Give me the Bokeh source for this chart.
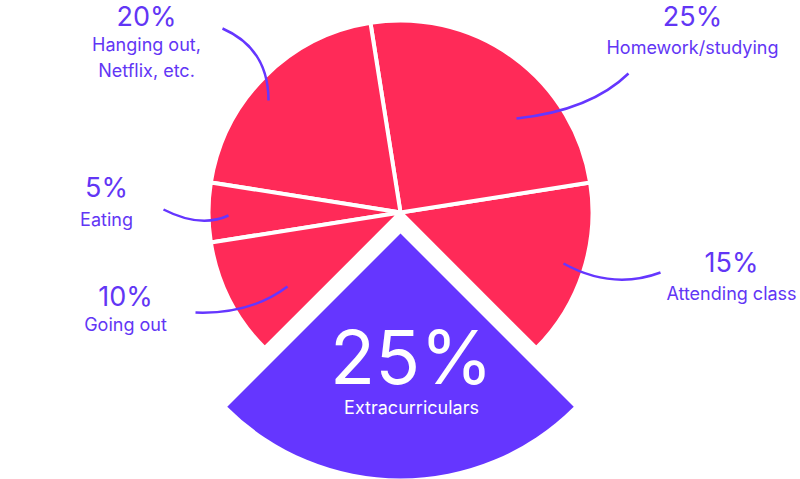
import math
from bokeh.plotting import figure
from bokeh.models import Range1d
from bokeh.core.properties import value
from bokeh.embed import file_html
from bokeh.resources import INLINE

# ---- data ----
categories = ["Extracurriculars", "Attending class", "Homework/studying",
              "Hanging out,\nNetflix, etc.", "Eating", "Going out"]
shares = [25, 15, 25, 20, 5, 10]
pct_labels = ["25%", "15%", "25%", "20%", "5%", "10%"]

# ---- layout / style ----
W, H = 800, 479
RED = "#FF2A58"
PURPLE = "#6536FF"
TEXT = "#6236F5"
FONT = "Inter"
CX, CY = 400, H - 212          # pie centre (data coords, y up)
R = 192
R_EXPLODE = 245
EXPLODE_OFF = 21
START_DEG = 225                 # first slice starts here, counter-clockwise

# label anchor positions (screen px): x, pct y, text y
label_pos = {
    1: (731, 262, 293),
    2: (692, 16, 47),
    3: (146, 16, 44),
    4: (106, 187, 219),
    5: (125, 296, 324),
}
# leader lines: (outer x, outer y, control x, control y, inner x, inner y) in screen px
leaders = {
    1: (660, 272, 612, 290, 563, 263),
    2: (628, 73, 590, 110, 516, 118),
    3: (222, 28, 268, 48, 268, 100),
    4: (163, 209, 200, 228, 228, 215),
    5: (195, 312, 250, 314, 287, 286),
}

p = figure(width=W, height=H, x_range=Range1d(0, W), y_range=Range1d(0, H),
           output_backend="svg", toolbar_location=None, min_border=0)
p.axis.visible = False
p.grid.visible = False
p.outline_line_color = None
p.background_fill_color = "white"

total = sum(shares)
angles = []
a = START_DEG
for s in shares:
    span = 360.0 * s / total
    angles.append((a, a + span))
    a += span

# red slices
st, en = [], []
for i in range(1, len(shares)):
    s0, s1 = angles[i]
    st.append(math.radians(s0)); en.append(math.radians(s1))
p.wedge(x=[CX] * len(st), y=[CY] * len(st), radius=R, start_angle=st, end_angle=en,
        fill_color=RED, line_color="white", line_width=4)

# exploded slice
s0, s1 = angles[0]
mid = math.radians((s0 + s1) / 2)
ex = CX + EXPLODE_OFF * math.cos(mid)
ey = CY + EXPLODE_OFF * math.sin(mid)
p.wedge(x=[ex], y=[ey], radius=R_EXPLODE, start_angle=[math.radians(s0)],
        end_angle=[math.radians(s1)], fill_color=PURPLE, line_color=None)

# leaders
for i, (ox, oy, cx_, cy_, ix, iy) in leaders.items():
    p.quadratic(x0=[ox], y0=[H - oy], cx=[cx_], cy=[H - cy_], x1=[ix], y1=[H - iy],
                line_color=PURPLE, line_width=2.5)

# labels
for i, (lx, py, ty) in label_pos.items():
    p.text(x=[lx], y=[H - py], text=[pct_labels[i]], text_font=value(FONT),
           text_font_size="27px", text_color=TEXT, text_align="center",
           text_baseline="middle")
    lines = categories[i].split("\n")
    for k, ln in enumerate(lines):
        p.text(x=[lx], y=[H - ty - 26 * k], text=[ln], text_font=value(FONT),
               text_font_size="18px", text_color=TEXT, text_align="center",
               text_baseline="middle")

# big label in exploded slice
p.text(x=[411], y=[H - 356], text=[pct_labels[0]], text_font=value(FONT),
       text_font_size="74px", text_color="white", text_align="center",
       text_baseline="middle")
p.text(x=[411], y=[H - 407], text=[categories[0]], text_font=value(FONT),
       text_font_size="18px", text_color="white", text_align="center",
       text_baseline="middle")

open("out.html", "w").write(file_html(p, INLINE))
